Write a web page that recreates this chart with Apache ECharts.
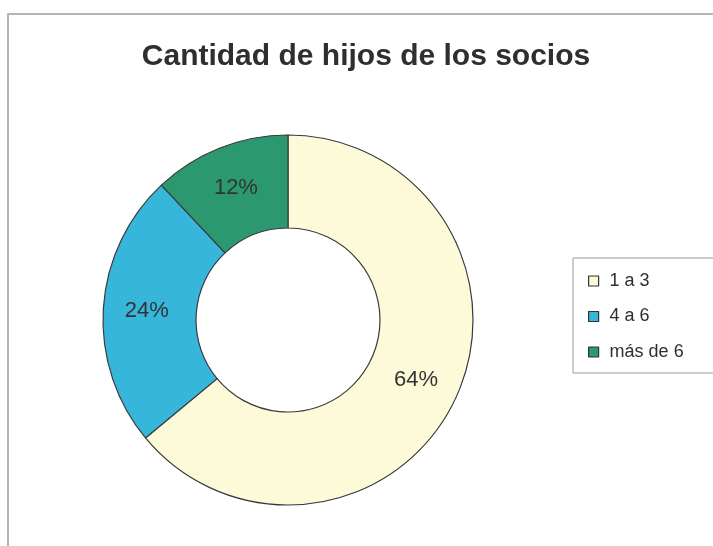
<!DOCTYPE html>
<html>
<head>
<meta charset="utf-8">
<script src="https://cdn.jsdelivr.net/npm/echarts@6/dist/echarts.min.js"></script>
<style>
  html, body { margin: 0; padding: 0; background: #fff; }
  #chart { width: 713px; height: 546px; }
</style>
</head>
<body>
<div id="chart"></div>
<script>
// Number of children per member
const categories = ['1 a 3', '4 a 6', 'más de 6'];
const percentages = [64, 24, 12];
const sliceColors = ['#FCFAD9', '#35B6DA', '#2C9870'];
const chartTitle = 'Cantidad de hijos de los socios';

const chart = echarts.init(document.getElementById('chart'));

const pieData = categories.map((name, i) => ({
  name: name,
  value: percentages[i],
  itemStyle: { color: sliceColors[i] }
}));

chart.setOption({
  backgroundColor: '#ffffff',
  animation: false,
  title: {
    text: chartTitle,
    left: 361,
    top: 37,
    textAlign: 'center',
    textStyle: {
      fontFamily: 'Liberation Sans, Arial, sans-serif',
      fontSize: 30,
      fontWeight: 'bold',
      color: '#2f2f2f'
    }
  },
  legend: {
    orient: 'vertical',
    left: 573,
    top: 258,
    width: 140,
    padding: [14, 30, 12, 15],
    itemGap: 17.5,
    itemWidth: 10,
    itemHeight: 10,
    icon: 'rect',
    borderColor: '#9a9a9a',
    borderWidth: 1,
    itemStyle: { borderColor: '#333', borderWidth: 1.2 },
    textStyle: {
      fontFamily: 'Liberation Sans, Arial, sans-serif',
      fontSize: 18,
      lineHeight: 17,
      color: '#2f2f2f',
      padding: [0, 0, 0, 6]
    },
    data: categories
  },
  graphic: [
    {
      type: 'polyline',
      shape: { points: [[8, 546], [8, 14], [713, 14]] },
      style: { stroke: '#b5b5b5', lineWidth: 2, fill: null }
    }
  ],
  series: [
    {
      type: 'pie',
      center: [288, 320],
      radius: [92, 185],
      startAngle: 90,
      clockwise: true,
      data: pieData,
      itemStyle: { borderColor: '#3a3a3a', borderWidth: 1.2 },
      label: {
        show: true,
        position: 'inside',
        formatter: '{c}%',
        fontFamily: 'Liberation Sans, Arial, sans-serif',
        fontSize: 22,
        color: '#333333'
      },
      labelLine: { show: false },
      emphasis: { disabled: true }
    }
  ]
});
</script>
</body>
</html>
